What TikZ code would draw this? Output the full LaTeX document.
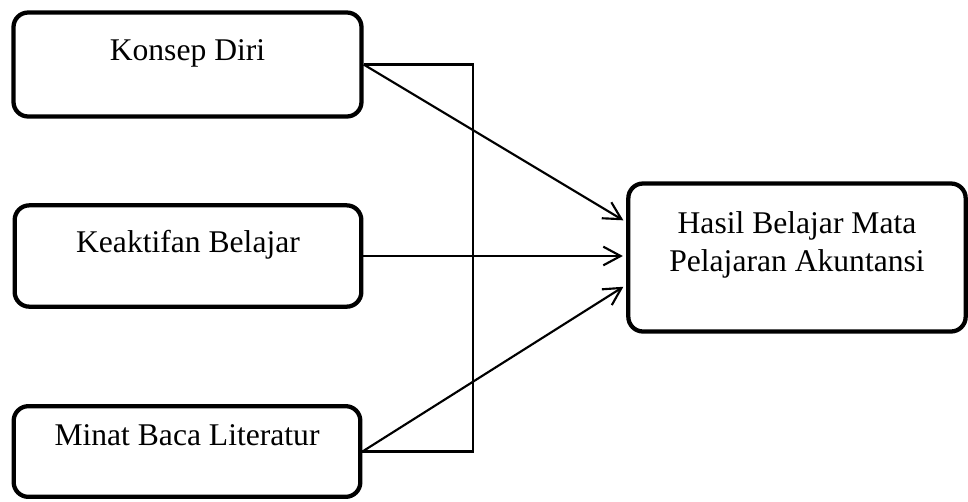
\documentclass[tikz,border=0pt]{standalone}
\usepackage{fontspec}
\setmainfont{Liberation Serif}
\usetikzlibrary{arrows.meta}

\begin{document}
\begin{tikzpicture}[x=0.75pt,y=-0.75pt,
  kotak/.style={draw,line width=3.2pt,rounded corners=11pt,inner sep=0pt,
    text height=18pt,font=\fontsize{23.7}{28.5}\selectfont},
  garis/.style={line width=1.6pt},
  panah/.style={garis,-{Straight Barb[length=13pt,width=14pt,line width=1.6pt]},shorten >=2.5pt}]
\useasboundingbox (0,0) rectangle (968,501);
%\draw[very thin,color=gray] (0,0) grid[step=50] (968,501);
\node[kotak,minimum width=261pt,minimum height=78pt,text depth=24.75pt] (konsep) at (187.5,64.5) {Konsep Diri};
\node[kotak,minimum width=260pt,minimum height=76pt,text depth=24pt] (keaktifan) at (188,256) {Keaktifan Belajar};
\node[kotak,minimum width=260pt,minimum height=68pt,text depth=27.75pt] (minat) at (187,451.5) {Minat Baca Literatur};
\node[kotak,minimum width=253pt,minimum height=111pt,text depth=54.75pt] (hasil) at (797,257.5)
  {\begin{tabular}[t]{@{}c@{}}Hasil Belajar Mata\\Pelajaran Akuntansi\end{tabular}};
\coordinate (siku) at (473,0);
\draw[garis] (konsep.east) -- (konsep.east -| siku) -- (minat.east -| siku) -- (minat.east);
\draw[panah] (konsep.east) -- ([yshift=26.6pt]hasil.west);
\draw[panah] (keaktifan.east) -- (keaktifan.east -| hasil.west);
\draw[panah] (minat.east) -- ([yshift=-20.6pt]hasil.west);
\end{tikzpicture}
\end{document}
